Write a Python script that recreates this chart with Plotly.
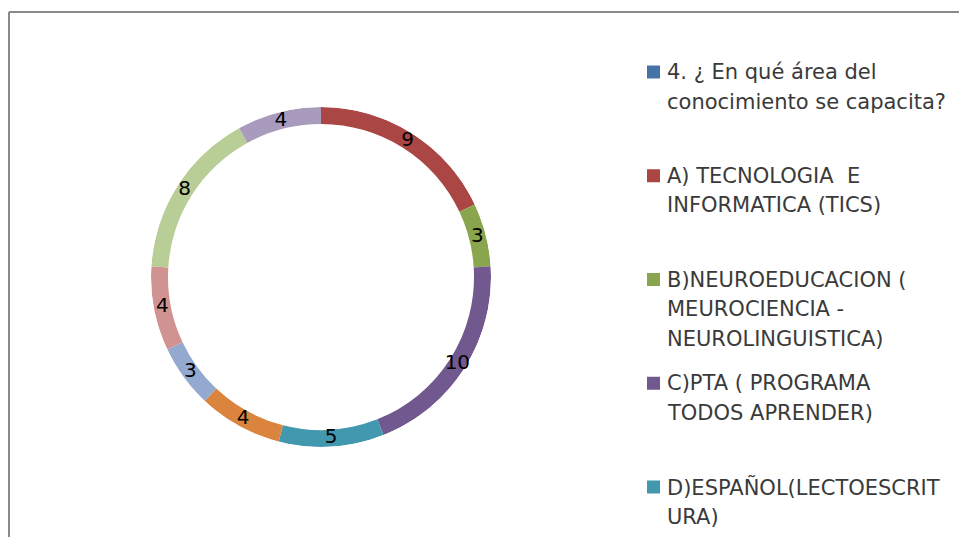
import plotly.graph_objects as go

# ---- data ----
categories = [
    "4. ¿ En qué área del<br>conocimiento se capacita?",
    "A) TECNOLOGIA  E<br>INFORMATICA (TICS)",
    "B)NEUROEDUCACION (<br>MEUROCIENCIA -<br>NEUROLINGUISTICA)",
    "C)PTA ( PROGRAMA<br>TODOS APRENDER)",
    "D)ESPAÑOL(LECTOESCRIT<br>URA)",
    "E)",
    "F)",
    "G)",
    "H)",
    "I)",
]
values = [0, 9, 3, 10, 5, 4, 3, 4, 8, 4]
colors = ["#4572A7", "#AA4643", "#89A54E", "#71588F", "#4198AF",
          "#DB843D", "#93A9CF", "#D19392", "#B9CD96", "#A99BBD"]
legend_count = 5  # entries visible in the (cropped) legend

# ---- geometry (page pixels; the page body adds an 8px offset) ----
OFF = 8
W, H = 967 - OFF, 537 - OFF
def px(x):
    return (x - OFF) / W
def py(y):
    return 1 - (y - OFF) / H

cx, cy, r = 321, 277, 170
hole = 0.90
dom = dict(x=[px(cx - r), px(cx + r)], y=[py(cy + r), py(cy - r)])
FONT = "DejaVu Sans, sans-serif"

# ring as polar bars: each slice spans value/total of the circle
total = sum(values)
mid_theta, widths = [], []
cum = 0
for v in values:
    mid_theta.append((cum + v / 2) / total * 360)
    widths.append(v / total * 360)
    cum += v

fig = go.Figure()
fig.add_trace(go.Barpolar(
    r=[1 - hole] * len(values),
    base=[hole] * len(values),
    theta=mid_theta,
    width=widths,
    marker=dict(color=colors, line=dict(width=0)),
    customdata=[[c.replace("<br>", " "), v] for c, v in zip(categories, values)],
    hovertemplate="%{customdata[0]}: %{customdata[1]}<extra></extra>",
    showlegend=False,
))
nz = [i for i, v in enumerate(values) if v > 0]
fig.add_trace(go.Scatterpolar(
    r=[(1 + hole) / 2] * len(nz),
    theta=[mid_theta[i] for i in nz],
    text=[str(values[i]) for i in nz],
    mode="text",
    textfont=dict(family=FONT, size=20, color="#000000"),
    hoverinfo="skip", showlegend=False,
))
fig.update_layout(polar=dict(
    domain=dom,
    bgcolor="rgba(0,0,0,0)",
    radialaxis=dict(range=[0, 1], visible=False, showgrid=False),
    angularaxis=dict(rotation=90, direction="clockwise", visible=False, showgrid=False),
))

# ---- frame + legend (cropped, as in the reference) ----
shapes = [
    dict(type="line", xref="paper", yref="paper", x0=px(9), x1=1.02, y0=py(12), y1=py(12),
         line=dict(color="#8a8a8a", width=2)),
    dict(type="line", xref="paper", yref="paper", x0=px(9), x1=px(9), y0=-0.02, y1=py(12),
         line=dict(color="#8a8a8a", width=2)),
]
annotations = []
entry_y0, entry_step, line_step = 72, 103.75, 29.5
for i in range(legend_count):
    ey = entry_y0 + i * entry_step
    shapes.append(dict(type="rect", xref="paper", yref="paper",
                       x0=px(647), x1=px(660), y0=py(ey + 6.5), y1=py(ey - 6.5),
                       fillcolor=colors[i], line=dict(width=0)))
    for j, line in enumerate(categories[i].split("<br>")):
        annotations.append(dict(
            xref="paper", yref="paper", x=px(665), y=py(ey + j * line_step),
            xanchor="left", yanchor="middle", showarrow=False, text=line,
            font=dict(family=FONT, size=21, color="#3a3a3a"),
        ))

fig.update_layout(
    width=W, height=H,
    margin=dict(l=0, r=0, t=0, b=0),
    paper_bgcolor="white",
    plot_bgcolor="white",
    showlegend=False,
    shapes=shapes,
    annotations=annotations,
)

fig.write_html("out.html")
